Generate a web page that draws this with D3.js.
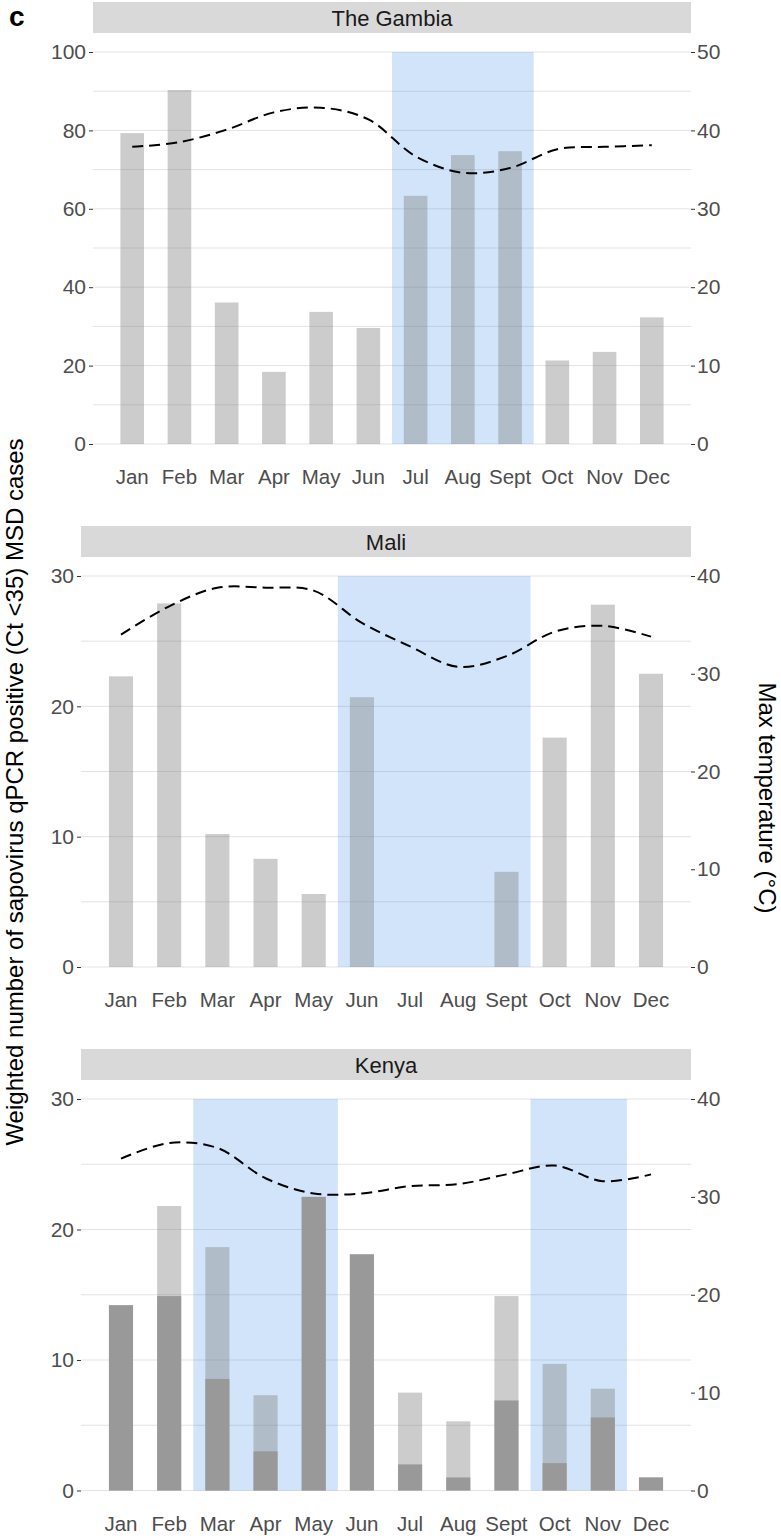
<!DOCTYPE html>
<html>
<head>
<meta charset="utf-8">
<script src="https://cdn.jsdelivr.net/npm/d3@7"></script>
<style>
  html, body { margin: 0; padding: 0; background: #ffffff; }
  svg { display: block; font-family: "Liberation Sans", Arial, Helvetica, sans-serif; }
</style>
</head>
<body>
<svg id="chart" width="781" height="1539"></svg>
<script>
// ---------------- data ----------------
const months = ["Jan", "Feb", "Mar", "Apr", "May", "Jun", "Jul", "Aug", "Sept", "Oct", "Nov", "Dec"];

const gambiaCases = [79.3, 90.3, 36.1, 18.4, 33.7, 29.6, 63.3, 73.7, 74.7, 21.3, 23.5, 32.3];
const gambiaTemp  = [37.9, 38.5, 40.1, 42.3, 42.9, 41.4, 36.7, 34.6, 35.2, 37.6, 37.9, 38.1];
const gambiaRain  = [[7, 9]];

const maliCases = [22.3, 27.9, 10.2, 8.3, 5.6, 20.7, 0, 0, 7.3, 17.6, 27.8, 22.5];
const maliTemp  = [34.0, 36.9, 38.8, 38.8, 38.5, 35.2, 32.8, 30.7, 31.8, 34.3, 34.9, 33.8];
const maliRain  = [[6, 9]];

const kenyaCasesTotal = [14.2, 21.8, 18.65, 7.3, 22.5, 18.1, 7.5, 5.3, 14.9, 9.7, 7.8, 1.0];
const kenyaCasesDark  = [14.2, 14.9, 8.55, 3.0, 22.5, 18.1, 2.0, 1.0, 6.9, 2.1, 5.6, 1.0];
const kenyaTemp = [33.9, 35.5, 35.0, 31.9, 30.35, 30.35, 31.1, 31.3, 32.3, 33.2, 31.6, 32.3];
const kenyaRain = [[3, 5], [10, 11]];

const gambiaLeftTicks = [0, 20, 40, 60, 80, 100];
const gambiaRightTicks = [0, 10, 20, 30, 40, 50];
const otherLeftTicks = [0, 10, 20, 30];
const otherRightTicks = [0, 10, 20, 30, 40];

const leftTitle = "Weighted number of sapovirus qPCR positive (Ct <35) MSD cases";
const rightTitle = "Max temperature (°C)";

// ---------------- layout ----------------
const svg = d3.select("#chart");
const PANEL_RIGHT = 691;
const TEXT_COL = "#4d4d4d";

const panels = [
  { name: "The Gambia", left: 93, top: 52, bottom: 444, yMax: 100, tMax: 50,
    lTicks: gambiaLeftTicks, rTicks: gambiaRightTicks, grid: d3.range(0, 101, 10),
    light: gambiaCases, dark: null, temp: gambiaTemp, rain: gambiaRain },
  { name: "Mali", left: 81, top: 576, bottom: 967, yMax: 30, tMax: 40,
    lTicks: otherLeftTicks, rTicks: otherRightTicks, grid: d3.range(0, 31, 5),
    light: maliCases, dark: null, temp: maliTemp, rain: maliRain },
  { name: "Kenya", left: 81, top: 1099, bottom: 1490.5, yMax: 30, tMax: 40,
    lTicks: otherLeftTicks, rTicks: otherRightTicks, grid: d3.range(0, 31, 5),
    light: kenyaCasesTotal, dark: kenyaCasesDark, temp: kenyaTemp, rain: kenyaRain }
];

panels.forEach(p => {
  const g = svg.append("g");
  const x = d3.scaleLinear().domain([0.17, 12.83]).range([p.left, PANEL_RIGHT]);
  const y = d3.scaleLinear().domain([0, p.yMax]).range([p.bottom, p.top]);
  const yT = d3.scaleLinear().domain([0, p.tMax]).range([p.bottom, p.top]);
  const idx = d3.range(12);

  // strip
  g.append("rect").attr("x", p.left).attr("y", p.top - 50)
    .attr("width", PANEL_RIGHT - p.left).attr("height", 31).attr("fill", "#d9d9d9");
  g.append("text").attr("x", (p.left + PANEL_RIGHT) / 2).attr("y", p.top - 26)
    .attr("text-anchor", "middle").attr("font-size", 22).attr("fill", "#1a1a1a").text(p.name);

  // grid
  g.append("g").selectAll("line").data(p.grid).join("line")
    .attr("x1", p.left).attr("x2", PANEL_RIGHT)
    .attr("y1", d => y(d)).attr("y2", d => y(d))
    .attr("stroke", "#e3e3e3").attr("stroke-width", 1);

  // rainy season shading
  g.append("g").selectAll("rect").data(p.rain).join("rect")
    .attr("x", d => x(d[0] - 0.5)).attr("width", d => x(d[1] + 0.5) - x(d[0] - 0.5))
    .attr("y", p.top).attr("height", p.bottom - p.top)
    .attr("fill", "rgb(50,130,230)").attr("fill-opacity", 0.22);

  // light (semi-transparent) bars
  g.append("g").selectAll("rect").data(idx.filter(i => p.light[i] > 0)).join("rect")
    .attr("x", i => x(i + 1 - 0.25)).attr("width", i => x(i + 1.25) - x(i + 0.75))
    .attr("y", i => y(p.light[i])).attr("height", i => y(0) - y(p.light[i]))
    .attr("fill", "rgb(128,128,128)").attr("fill-opacity", 0.4);

  // dark bars
  if (p.dark) {
    g.append("g").selectAll("rect").data(idx.filter(i => p.dark[i] > 0)).join("rect")
      .attr("x", i => x(i + 1 - 0.25)).attr("width", i => x(i + 1.25) - x(i + 0.75))
      .attr("y", i => y(p.dark[i])).attr("height", i => y(0) - y(p.dark[i]))
      .attr("fill", "#999999");
  }

  // temperature line
  const line = d3.line().x((d, i) => x(i + 1)).y(d => yT(d)).curve(d3.curveCatmullRom.alpha(0.5));
  g.append("path").datum(p.temp).attr("d", line)
    .attr("fill", "none").attr("stroke", "#000").attr("stroke-width", 2)
    .attr("stroke-dasharray", "11,6");

  // left axis
  const la = g.append("g").attr("transform", `translate(${p.left},0)`)
    .call(d3.axisLeft(y).tickValues(p.lTicks).tickSize(4).tickPadding(3));
  la.select(".domain").remove();
  la.selectAll(".tick line").attr("stroke", "#333333");
  la.selectAll(".tick text").attr("fill", TEXT_COL).attr("font-size", 21)
    .attr("font-family", "Liberation Sans, Arial, sans-serif");

  // right axis
  const ra = g.append("g").attr("transform", `translate(${PANEL_RIGHT},0)`)
    .call(d3.axisRight(yT).tickValues(p.rTicks).tickSize(4).tickPadding(2));
  ra.select(".domain").remove();
  ra.selectAll(".tick line").attr("stroke", "#333333");
  ra.selectAll(".tick text").attr("fill", TEXT_COL).attr("font-size", 21)
    .attr("font-family", "Liberation Sans, Arial, sans-serif");

  // month labels
  g.append("g").selectAll("text").data(months).join("text")
    .attr("x", (d, i) => x(i + 1)).attr("y", p.bottom + 40)
    .attr("text-anchor", "middle").attr("font-size", 20.5).attr("fill", TEXT_COL)
    .text(d => d);
});

// panel tag
svg.append("text").attr("x", 9).attr("y", 26).attr("font-size", 28)
  .attr("font-weight", "bold").attr("fill", "#000").text("c");

// axis titles
svg.append("text").attr("transform", "translate(23,792) rotate(-90)")
  .attr("text-anchor", "middle").attr("font-size", 24).attr("fill", "#000").text(leftTitle);
svg.append("text").attr("transform", "translate(759,798) rotate(90)")
  .attr("text-anchor", "middle").attr("font-size", 24).attr("fill", "#000").text(rightTitle);
</script>
</body>
</html>
